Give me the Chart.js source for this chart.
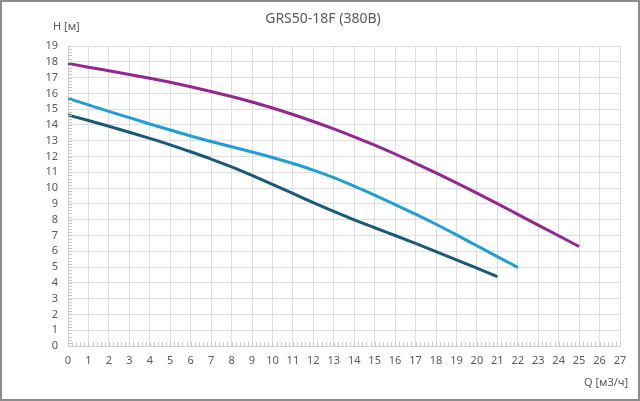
<!DOCTYPE html>
<html>
<head>
<meta charset="utf-8">
<script src="https://cdn.jsdelivr.net/npm/chart.js@4"></script>
<style>
  html, body { margin: 0; padding: 0; background: #fff; }
  #wrap { width: 640px; height: 401px; position: relative; }
</style>
</head>
<body>
<div id="wrap"><canvas id="pumpChart"></canvas></div>
<script>
// ===== Data =====
const flowQ = [0, 1, 2, 3, 4, 5, 6, 7, 8, 9, 10, 11, 12, 13, 14, 15, 16, 17, 18, 19, 20, 21, 22, 23, 24, 25];
const headTop = [17.9, 17.66, 17.43, 17.2, 16.96, 16.7, 16.42, 16.12, 15.8, 15.45, 15.07, 14.66, 14.22, 13.75, 13.25, 12.72, 12.16, 11.57, 10.96, 10.33, 9.68, 9.02, 8.34, 7.66, 6.98, 6.3];
const headMid = [15.68, 15.27, 14.86, 14.46, 14.06, 13.68, 13.3, 12.95, 12.62, 12.29, 11.94, 11.56, 11.14, 10.66, 10.12, 9.55, 8.96, 8.35, 7.71, 7.04, 6.35, 5.66, 4.98];
const headLow = [14.63, 14.28, 13.92, 13.54, 13.15, 12.74, 12.3, 11.84, 11.34, 10.8, 10.24, 9.66, 9.08, 8.52, 7.99, 7.49, 7.0, 6.5, 5.98, 5.46, 4.93, 4.4];

const chartTitle = "GRS50-18F (380B)";
const yAxisLabel = "H [м]";
const xAxisLabel = "Q [м3/ч]";

const toPoints = (ys) => ys.map((y, i) => ({ x: flowQ[i], y: y }));

const textColor = "#595959";
const fontFamily = "'Noto Sans', 'Liberation Sans', sans-serif";

// frame, labels and minor ticks
const extras = {
  id: "extras",
  afterDraw(chart) {
    const { ctx, scales: { x, y } } = chart;
    ctx.save();
    // minor ticks
    ctx.strokeStyle = "#c8c8c8";
    ctx.lineWidth = 1;
    ctx.beginPath();
    for (let v = 0; v < 27; v += 0.2) {
      const px = Math.round(x.getPixelForValue(v)) + 0.5;
      ctx.moveTo(px, y.bottom);
      ctx.lineTo(px, y.bottom - 4);
    }
    for (let v = 0; v < 19; v += 0.2) {
      const py = Math.round(y.getPixelForValue(v)) + 0.5;
      ctx.moveTo(x.left, py);
      ctx.lineTo(x.left + 4, py);
    }
    ctx.stroke();

    // texts
    ctx.fillStyle = textColor;
    ctx.textBaseline = "middle";
    ctx.textAlign = "center";
    ctx.font = "14px " + fontFamily;
    ctx.fillText(chartTitle, 323, 19);
    ctx.font = "11px " + fontFamily;
    ctx.textAlign = "left";
    ctx.fillText(yAxisLabel, 53, 27);
    ctx.textAlign = "right";
    ctx.fillText(xAxisLabel, 628, 383);

    // outer frame
    ctx.strokeStyle = "#8c8c8c";
    ctx.lineWidth = 2;
    ctx.strokeRect(1, 1, chart.width - 2, chart.height - 2);
    ctx.restore();
  }
};

const ctx = document.getElementById("pumpChart").getContext("2d");
new Chart(ctx, {
  type: "line",
  data: {
    datasets: [
      { label: "top", data: toPoints(headTop), borderColor: "#93278f" },
      { label: "mid", data: toPoints(headMid), borderColor: "#1f9fd6" },
      { label: "low", data: toPoints(headLow), borderColor: "#185a78" }
    ]
  },
  options: {
    responsive: true,
    maintainAspectRatio: false,
    animation: false,
    layout: { padding: { top: 46, right: 20, left: 0, bottom: 0 } },
    elements: {
      line: { borderWidth: 3, tension: 0.4, cubicInterpolationMode: "monotone", fill: false },
      point: { radius: 0 }
    },
    scales: {
      x: {
        type: "linear",
        min: 0,
        max: 27,
        afterFit: (s) => { s.height = 55; },
        grid: { color: "#dedede", drawTicks: false },
        border: { color: "#d0d0d0" },
        ticks: { stepSize: 1, autoSkip: false, maxRotation: 0, padding: 8, color: textColor, font: { size: 11, family: fontFamily } }
      },
      y: {
        min: 0,
        max: 19,
        afterFit: (s) => { s.width = 68; },
        grid: { color: "#dedede", drawTicks: false },
        border: { color: "#d0d0d0" },
        ticks: { stepSize: 1, autoSkip: false, padding: 10, color: textColor, font: { size: 11, family: fontFamily } }
      }
    },
    plugins: {
      legend: { display: false },
      tooltip: { enabled: false }
    }
  },
  plugins: [extras]
});
</script>
</body>
</html>
